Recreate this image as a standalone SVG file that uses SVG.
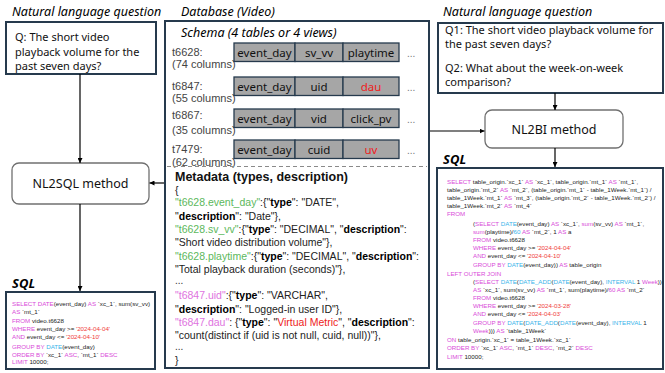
<svg xmlns="http://www.w3.org/2000/svg" width="665" height="373" viewBox="0 0 665 373">
<defs>
<marker id="ah" viewBox="0 0 8 8" refX="8" refY="4" markerWidth="5" markerHeight="5" orient="auto" markerUnits="userSpaceOnUse"><path d="M0,0 L8,4 L0,8 z" fill="#000"/></marker>
<style>
.title{font-family:"Noto Sans","Liberation Sans",sans-serif;font-style:italic;font-size:12.5px;fill:#000}
.sqlt{font-family:"Noto Sans","Liberation Sans",sans-serif;font-style:italic;font-weight:bold;font-size:13px;fill:#000}
.box{fill:#fff;stroke:#263a4d;stroke-width:2}
.node{fill:#fff;stroke:#707070;stroke-width:1.3}
.q{font-family:"Noto Sans","Liberation Sans",sans-serif;font-size:11px;fill:#111}
.nm{font-family:"Noto Sans","Liberation Sans",sans-serif;font-size:12.5px;fill:#111;text-anchor:middle}
.cell{fill:#a6a6a6;stroke:#263a4d;stroke-width:1.3}
.ct{font-family:"Noto Sans","Liberation Sans",sans-serif;font-size:11.5px;fill:#111;text-anchor:middle}
.red{fill:#ee1c1c}
.lbl{font-family:"Liberation Sans",sans-serif;font-size:11px;fill:#444}
.dots{font-family:"Liberation Sans",sans-serif;font-size:10px;fill:#777}
.md{font-family:"Liberation Sans",sans-serif;font-size:10.5px;fill:#222}
.mdh{font-family:"Liberation Sans",sans-serif;font-size:12.5px;font-weight:bold;fill:#111}
.sql{font-family:"Liberation Sans",sans-serif;font-size:6.2px;fill:#222}
.k{fill:#d94bd9}
.f{fill:#3ab4ea}
.s{fill:#f03c3c}
.g{fill:#5cb85c}
.p{fill:#e073e0}
.b{font-weight:bold;fill:#000}
.r{fill:#ee1c1c}
.conn line{stroke:#000;stroke-width:1.2;marker-end:url(#ah)}
</style>
</defs>

<!-- Left column -->
<text class="title" x="12" y="16">Natural language question</text>
<g id="q-left">
<rect class="box" x="6" y="22" width="150" height="52"/>
<text class="q" x="15" y="41">Q: The short video</text>
<text class="q" x="15" y="56">playback volume for the</text>
<text class="q" x="15" y="70">past seven days?</text>
</g>
<g id="nl2sql">
<rect class="node" x="12" y="163" width="137" height="41" rx="7"/>
<text class="nm" x="80.5" y="188">NL2SQL method</text>
</g>
<text class="sqlt" x="12" y="288">SQL</text>
<g id="sql-left">
<rect class="box" x="6" y="292" width="149" height="77"/>
<text class="sql" x="12" y="305.5"><tspan class="k">SELECT DATE</tspan>(event_day) <tspan class="k">AS</tspan> `xc_1`, sum(sv_vv)</text>
<text class="sql" x="12" y="313.5"><tspan class="k">AS</tspan> `mt_1`</text>
<text class="sql" x="12" y="323"><tspan class="k">FROM</tspan> video.t6628</text>
<text class="sql" x="12" y="331"><tspan class="k">WHERE</tspan> event_day &gt;= <tspan class="s">'2024-04-04'</tspan></text>
<text class="sql" x="12" y="339"><tspan class="k">AND</tspan> event_day &lt;= <tspan class="s">'2024-04-10'</tspan></text>
<text class="sql" x="12" y="349"><tspan class="k">GROUP BY</tspan> <tspan class="f">DATE</tspan>(event_day)</text>
<text class="sql" x="12" y="356.5"><tspan class="k">ORDER BY</tspan> `xc_1` <tspan class="k">ASC</tspan>, `mt_1` <tspan class="k">DESC</tspan></text>
<text class="sql" x="12" y="364"><tspan class="k">LIMIT</tspan> 10000;</text>
</g>

<!-- Database -->
<text class="title" x="181" y="16">Database (Video)</text>
<g id="database">
<rect class="box" x="165" y="21" width="264" height="347"/>
<text class="title" x="181" y="37">Schema (4 tables or 4 views)</text>

<text class="lbl" x="172" y="56">t6628:</text>
<text class="lbl" x="172" y="68">(74 columns)</text>
<rect class="cell" x="234" y="43" width="61" height="18.5"/>
<rect class="cell" x="295" y="43" width="48" height="18.5"/>
<rect class="cell" x="343" y="43" width="56" height="18.5"/>
<text class="ct" x="264.5" y="56.5">event_day</text>
<text class="ct" x="319" y="56.5">sv_vv</text>
<text class="ct" x="371" y="56.5">playtime</text>
<text class="dots" x="407" y="57">...</text>

<text class="lbl" x="172" y="90">t6847:</text>
<text class="lbl" x="172" y="102">(55 columns)</text>
<rect class="cell" x="234" y="77" width="61" height="18.5"/>
<rect class="cell" x="295" y="77" width="48" height="18.5"/>
<rect class="cell" x="343" y="77" width="56" height="18.5"/>
<text class="ct" x="264.5" y="90.5">event_day</text>
<text class="ct" x="319" y="90.5">uid</text>
<text class="ct red" x="371" y="90.5">dau</text>
<text class="dots" x="407" y="91">...</text>

<text class="lbl" x="172" y="119">t6867:</text>
<text class="lbl" x="172" y="134">(35 columns)</text>
<rect class="cell" x="234" y="109" width="61" height="18.5"/>
<rect class="cell" x="295" y="109" width="48" height="18.5"/>
<rect class="cell" x="343" y="109" width="56" height="18.5"/>
<text class="ct" x="264.5" y="122.5">event_day</text>
<text class="ct" x="319" y="122.5">vid</text>
<text class="ct" x="371" y="122.5">click_pv</text>
<text class="dots" x="407" y="123">...</text>

<text class="lbl" x="172" y="153">t7479:</text>
<text class="lbl" x="172" y="166">(62 columns)</text>
<rect class="cell" x="234" y="140" width="61" height="18.5"/>
<rect class="cell" x="295" y="140" width="48" height="18.5"/>
<rect class="cell" x="343" y="140" width="56" height="18.5"/>
<text class="ct" x="264.5" y="153.5">event_day</text>
<text class="ct" x="319" y="153.5">cuid</text>
<text class="ct red" x="371" y="153.5">uv</text>
<text class="dots" x="407" y="154">...</text>

<line x1="167" y1="166.5" x2="427" y2="166.5" stroke="#8a8a8a" stroke-width="1" stroke-dasharray="4 3"/>

<text class="mdh" x="175" y="181">Metadata (types, description)</text>
<text class="md" x="175" y="194">{</text>
<text class="md" x="175" y="206"><tspan class="g">"t6628.event_day"</tspan>:{"<tspan class="b">type</tspan>": "DATE",</text>
<text class="md" x="175" y="220">"<tspan class="b">description</tspan>": "Date"},</text>
<text class="md" x="175" y="233"><tspan class="g">"t6628.sv_vv"</tspan>:{"<tspan class="b">type</tspan>": "DECIMAL", "<tspan class="b">description</tspan>":</text>
<text class="md" x="175" y="246">"Short video distribution volume"},</text>
<text class="md" x="175" y="260"><tspan class="g">"t6628.playtime"</tspan>:{"<tspan class="b">type</tspan>": "DECIMAL", "<tspan class="b">description</tspan>":</text>
<text class="md" x="175" y="273">"Total playback duration (seconds)"},</text>
<text class="dots" x="175" y="284" style="fill:#333">...</text>
<text class="md" x="175" y="299"><tspan class="p">"t6847.uid"</tspan>:{"<tspan class="b">type</tspan>": "VARCHAR",</text>
<text class="md" x="175" y="313">"<tspan class="b">description</tspan>": "Logged-in user ID"},</text>
<text class="md" x="175" y="326"><tspan class="p">"t6847.dau"</tspan>: {"<tspan class="b">type</tspan>": "<tspan class="r">Virtual Metric</tspan>", "<tspan class="b">description</tspan>":</text>
<text class="md" x="175" y="339">"count(distinct if (uid is not null, cuid, null))"},</text>
<text class="dots" x="175" y="350" style="fill:#333">...</text>
<text class="md" x="175" y="364">}</text>
</g>

<!-- Right column -->
<text class="title" x="443" y="16">Natural language question</text>
<g id="q-right">
<rect class="box" x="438" y="23" width="225" height="70"/>
<text class="q" x="445" y="34">Q1: The short video playback volume for</text>
<text class="q" x="445" y="48">the past seven days?</text>
<text class="q" x="445" y="72">Q2: What about the week-on-week</text>
<text class="q" x="445" y="86">comparison?</text>
</g>
<g id="nl2bi">
<rect class="node" x="485" y="110" width="138" height="38" rx="7"/>
<text class="nm" x="554" y="133.5">NL2BI method</text>
</g>
<text class="sqlt" x="443" y="164">SQL</text>
<g id="sql-right">
<rect class="box" x="437" y="168" width="226" height="201"/>
<text class="sql" x="447" y="183.5"><tspan class="k">SELECT</tspan> table_origin.`xc_1` <tspan class="k">AS</tspan> `xc_1`, table_origin.`mt_1` <tspan class="k">AS</tspan> `mt_1`,</text>
<text class="sql" x="447" y="191.5">table_origin.`mt_2` <tspan class="k">AS</tspan> `mt_2`, (table_origin.`mt_1` - table_1Week.`mt_1`) /</text>
<text class="sql" x="447" y="199.5">table_1Week.`mt_1` <tspan class="k">AS</tspan> `mt_3`, (table_origin.`mt_2` - table_1Week.`mt_2`) /</text>
<text class="sql" x="447" y="207.5">table_1Week.`mt_2` <tspan class="k">AS</tspan> `mt_4`</text>
<text class="sql" x="447" y="215.5"><tspan class="k">FROM</tspan></text>
<text class="sql" x="473" y="225.5">(<tspan class="k">SELECT</tspan> <tspan class="f">DATE</tspan>(event_day) <tspan class="k">AS</tspan> `xc_1`, <tspan class="k">sum</tspan>(sv_vv) <tspan class="k">AS</tspan> `mt_1`,</text>
<text class="sql" x="473" y="233.5"><tspan class="k">sum</tspan>(playtime)/<tspan class="f">60</tspan> <tspan class="k">AS</tspan> `mt_2`, 1 <tspan class="k">AS</tspan> a</text>
<text class="sql" x="473" y="241.5"><tspan class="k">FROM</tspan> video.t6628</text>
<text class="sql" x="473" y="249.5"><tspan class="k">WHERE</tspan> event_day &gt;= <tspan class="s">'2024-04-04'</tspan></text>
<text class="sql" x="473" y="258"><tspan class="k">AND</tspan> event_day &lt;= <tspan class="s">'2024-04-10'</tspan></text>
<text class="sql" x="473" y="266.5"><tspan class="k">GROUP BY</tspan> <tspan class="f">DATE</tspan>(event_day)) <tspan class="k">AS</tspan> table_origin</text>
<text class="sql" x="447" y="275.5"><tspan class="k">LEFT OUTER JOIN</tspan></text>
<text class="sql" x="473" y="284">(<tspan class="k">SELECT</tspan> <tspan class="f">DATE</tspan>(<tspan class="f">DATE_ADD</tspan>(<tspan class="f">DATE</tspan>(event_day), <tspan class="f">INTERVAL</tspan> 1 <tspan class="k">Week</tspan>))</text>
<text class="sql" x="473" y="292"><tspan class="k">AS</tspan> `xc_1`, sum(sv_vv) <tspan class="k">AS</tspan> `mt_1`, sum(playtime)/<tspan class="k">60</tspan> <tspan class="k">AS</tspan> `mt_2`</text>
<text class="sql" x="473" y="300"><tspan class="k">FROM</tspan> video.t6628</text>
<text class="sql" x="473" y="308"><tspan class="k">WHERE</tspan> event_day &gt;= <tspan class="s">'2024-03-28'</tspan></text>
<text class="sql" x="473" y="316"><tspan class="k">AND</tspan> event_day &lt;= <tspan class="s">'2024-04-03'</tspan></text>
<text class="sql" x="473" y="325"><tspan class="k">GROUP BY</tspan> <tspan class="f">DATE</tspan>(<tspan class="f">DATE_ADD</tspan>(<tspan class="f">DATE</tspan>(event_day), <tspan class="f">INTERVAL</tspan> 1</text>
<text class="sql" x="473" y="333"><tspan class="k">Week</tspan>))) <tspan class="k">AS</tspan> `table_1Week`</text>
<text class="sql" x="447" y="341.5"><tspan class="k">ON</tspan> table_origin.`xc_1` = table_1Week.`xc_1`</text>
<text class="sql" x="447" y="349.5"><tspan class="k">ORDER BY</tspan> `xc_1` <tspan class="k">ASC</tspan>, `mt_1` <tspan class="k">DESC</tspan>, `mt_2` <tspan class="k">DESC</tspan></text>
<text class="sql" x="447" y="359"><tspan class="k">LIMIT</tspan> 10000;</text>
</g>

<g id="connectors" class="conn">
<line x1="80" y1="74" x2="80" y2="163"/>
<line x1="80" y1="204" x2="80" y2="291"/>
<line x1="164" y1="183" x2="149.5" y2="183"/>
<line x1="555" y1="93" x2="555" y2="110"/>
<line x1="555" y1="148" x2="555" y2="167"/>
<line x1="430" y1="131" x2="484.5" y2="131"/>
</g>
</svg>
